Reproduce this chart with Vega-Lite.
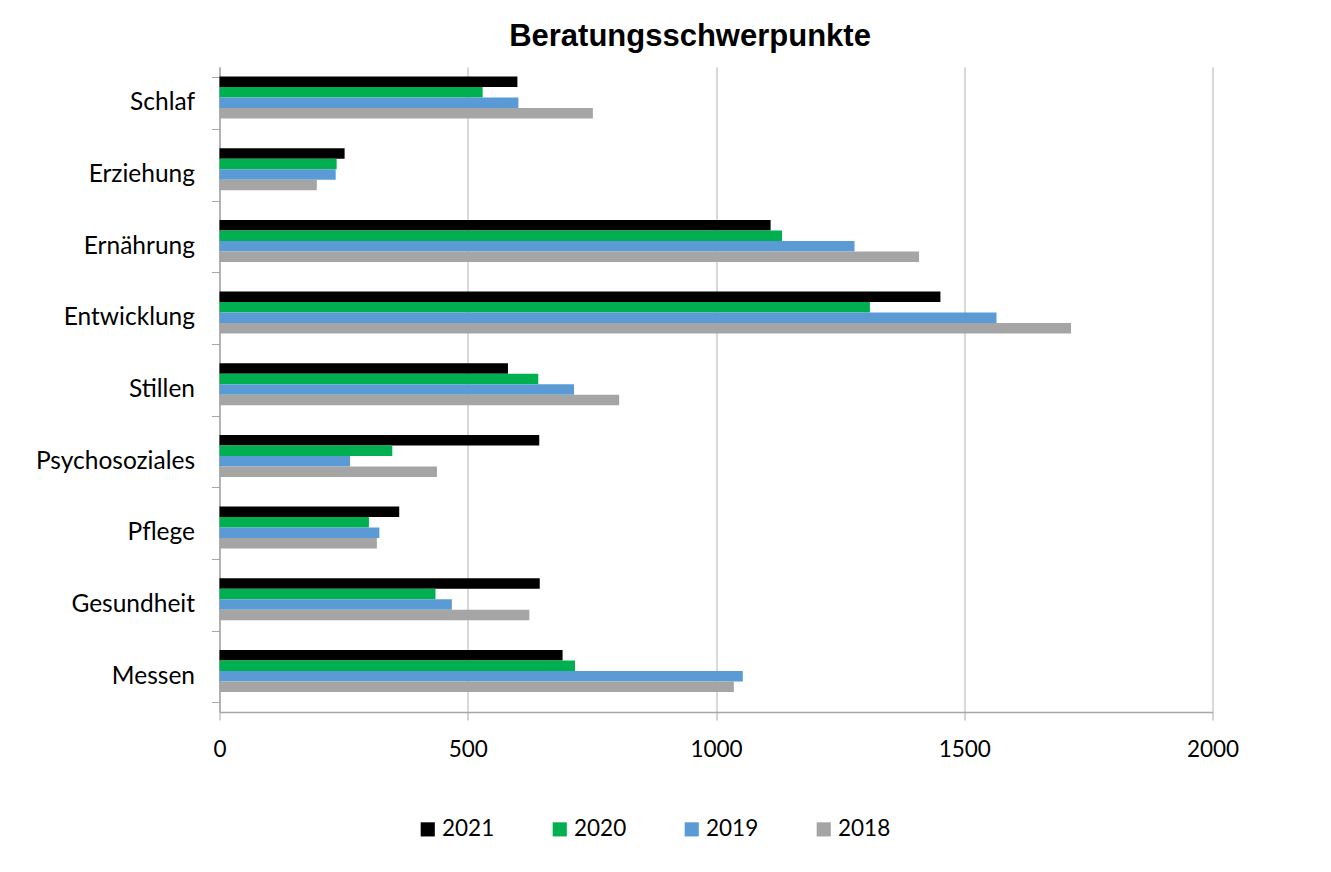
{
  "$schema": "https://vega.github.io/schema/vega-lite/v6.json",
  "autosize": "none",
  "width": 993,
  "height": 645,
  "padding": {"left": 219.5, "top": 67, "right": 118, "bottom": 160},
  "background": "white",
  "title": {
    "text": "Beratungsschwerpunkte",
    "font": "Liberation Sans",
    "fontSize": 31,
    "fontWeight": "bold",
    "color": "#000000",
    "anchor": "middle",
    "frame": "group",
    "dx": -26,
    "offset": 1
  },
  "data": {
    "values": [
      {"kategorie": "Schlaf ", "jahr": "2021", "wert": 600},
      {"kategorie": "Schlaf ", "jahr": "2020", "wert": 530},
      {"kategorie": "Schlaf ", "jahr": "2019", "wert": 602},
      {"kategorie": "Schlaf ", "jahr": "2018", "wert": 752},
      {"kategorie": "Erziehung", "jahr": "2021", "wert": 252},
      {"kategorie": "Erziehung", "jahr": "2020", "wert": 236},
      {"kategorie": "Erziehung", "jahr": "2019", "wert": 234},
      {"kategorie": "Erziehung", "jahr": "2018", "wert": 196},
      {"kategorie": "Ernährung", "jahr": "2021", "wert": 1110},
      {"kategorie": "Ernährung", "jahr": "2020", "wert": 1133},
      {"kategorie": "Ernährung", "jahr": "2019", "wert": 1279},
      {"kategorie": "Ernährung", "jahr": "2018", "wert": 1409},
      {"kategorie": "Entwicklung", "jahr": "2021", "wert": 1452},
      {"kategorie": "Entwicklung", "jahr": "2020", "wert": 1310},
      {"kategorie": "Entwicklung", "jahr": "2019", "wert": 1565},
      {"kategorie": "Entwicklung", "jahr": "2018", "wert": 1715},
      {"kategorie": "Stillen", "jahr": "2021", "wert": 581},
      {"kategorie": "Stillen", "jahr": "2020", "wert": 642},
      {"kategorie": "Stillen", "jahr": "2019", "wert": 714},
      {"kategorie": "Stillen", "jahr": "2018", "wert": 805},
      {"kategorie": "Psychosoziales", "jahr": "2021", "wert": 644},
      {"kategorie": "Psychosoziales", "jahr": "2020", "wert": 348},
      {"kategorie": "Psychosoziales", "jahr": "2019", "wert": 263},
      {"kategorie": "Psychosoziales", "jahr": "2018", "wert": 438},
      {"kategorie": "Pflege", "jahr": "2021", "wert": 362},
      {"kategorie": "Pflege", "jahr": "2020", "wert": 301},
      {"kategorie": "Pflege", "jahr": "2019", "wert": 322},
      {"kategorie": "Pflege", "jahr": "2018", "wert": 317},
      {"kategorie": "Gesundheit", "jahr": "2021", "wert": 645},
      {"kategorie": "Gesundheit", "jahr": "2020", "wert": 435},
      {"kategorie": "Gesundheit", "jahr": "2019", "wert": 468},
      {"kategorie": "Gesundheit", "jahr": "2018", "wert": 624},
      {"kategorie": "Messen", "jahr": "2021", "wert": 691},
      {"kategorie": "Messen", "jahr": "2020", "wert": 716},
      {"kategorie": "Messen", "jahr": "2019", "wert": 1054},
      {"kategorie": "Messen", "jahr": "2018", "wert": 1036}
    ]
  },
  "mark": {"type": "bar"},
  "encoding": {
    "y": {
      "field": "kategorie",
      "type": "nominal",
      "sort": ["Schlaf ", "Erziehung", "Ernährung", "Entwicklung", "Stillen", "Psychosoziales", "Pflege", "Gesundheit", "Messen"],
      "scale": {"paddingInner": 0.268, "paddingOuter": 0.134},
      "axis": {
        "title": null,
        "tickBand": "extent",
        "tickSize": 8,
        "tickColor": "#a6a6a6",
        "domainColor": "#a6a6a6",
        "domainWidth": 1.5,
        "labelFont": "Lato",
        "labelFontSize": 24.5,
        "labelColor": "#000000",
        "labelPadding": 17,
        "labelLimit": 300,
        "grid": false,
        "encode": {
          "labels": {
            "update": {
              "dx": {"signal": "datum.value == 'Schlaf ' ? -6 : 0"}
            }
          }
        }
      }
    },
    "yOffset": {
      "field": "jahr",
      "type": "nominal",
      "scale": {"domain": ["2021", "2020", "2019", "2018", "leer"], "paddingInner": 0, "paddingOuter": 0}
    },
    "x": {
      "field": "wert",
      "type": "quantitative",
      "scale": {"domain": [0, 2000], "nice": false},
      "axis": {
        "title": null,
        "values": [0, 500, 1000, 1500, 2000],
        "format": "d",
        "labelFlush": false,
        "tickSize": 8,
        "tickColor": "#a6a6a6",
        "domainColor": "#a6a6a6",
        "domainWidth": 1.5,
        "gridColor": "#d9d9d9",
        "gridWidth": 2,
        "labelFont": "Lato",
        "labelFontSize": 22.5,
        "labelColor": "#000000",
        "labelPadding": 18
      }
    },
    "color": {
      "field": "jahr",
      "type": "nominal",
      "scale": {"domain": ["2021", "2020", "2019", "2018"], "range": ["#000000", "#00b050", "#5b9bd5", "#a5a5a5"]},
      "legend": {
        "title": null,
        "orient": "none",
        "direction": "horizontal",
        "legendX": 197,
        "legendY": 751,
        "symbolType": "square",
        "symbolSize": 200,
        "symbolStrokeWidth": 0,
        "labelFont": "Lato",
        "labelFontSize": 22.5,
        "labelColor": "#000000",
        "labelOffset": 3,
        "columnPadding": 54
      }
    }
  },
  "config": {"view": {"stroke": null}}
}
